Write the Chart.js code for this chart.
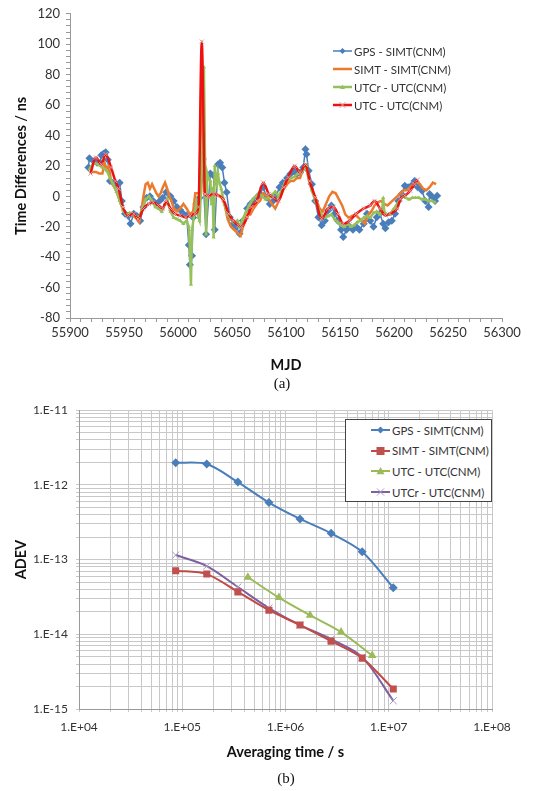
<!DOCTYPE html>
<html>
<head>
<meta charset="utf-8">
<script src="https://cdn.jsdelivr.net/npm/chart.js@4.4.1/dist/chart.umd.min.js"></script>
<style>
  html, body { margin:0; padding:0; background:#fff; }
  body { width:545px; height:791px; position:relative; overflow:hidden; font-family: Lato, "Open Sans", sans-serif; }
  .wrap { position:absolute; left:0; width:545px; }
  .cap { position:absolute; font-family:"Liberation Serif", serif; font-size:15px; color:#111; transform:translate(-50%,-50%); }
  .leg { position:absolute; font-family: Lato, sans-serif; font-size:11.5px; color:#333; }
  .row { position:absolute; left:0; height:14px; white-space:nowrap; display:flex; align-items:center; }
  .row svg { flex:none; margin-right:2px; }
  .box { border:1px solid #444; background:#fff; }
</style>
</head>
<body>
<div class="wrap" style="top:0;height:375px"><canvas id="ca" width="545" height="375"></canvas></div>
<div class="cap" style="left:282px;top:383px">(a)</div>
<div class="wrap" style="top:395px;height:368px"><canvas id="cb" width="545" height="368"></canvas></div>
<div class="cap" style="left:286px;top:778px">(b)</div>
<div id="legA" class="leg" style="left:333px;top:44px;width:125px;height:70px"></div>
<div id="legB" class="leg box" style="left:345px;top:419px;width:145px;height:81px"></div>

<script>
// ---------------- (a) Time differences ----------------
const gpsMjd = [55917,55918,55922,55925,55928,55929,55931,55933,55935,55937,55940,55943,55946,55948,55951,55954,55956,55959,55962,55965,55968,55971,55974,55977,55980,55983,55986,55989,55993,55996,55999,56002,56005,56008,56010,56011,56013,56014,56017,56020,56023,56026,56030,56033,56034,56037,56039,56041,56043,56045,56048,56051,56054,56057,56060,56064,56067,56070,56073,56076,56079,56082,56085,56088,56091,56094,56097,56101,56104,56107,56110,56113,56116,56118,56119,56121,56124,56127,56130,56133,56136,56139,56142,56145,56148,56151,56153,56156,56159,56162,56165,56168,56172,56175,56178,56181,56184,56187,56190,56192,56195,56198,56201,56204,56207,56210,56213,56216,56219,56222,56226,56229,56232,56233,56236,56238,56240];
const gpsVal = [19,25,23,22,22,27,28,29,24,10,9,8,9,-3,-11.5,-13,-18,-11.5,-13,-16,-7,-1,0,-3,-5,-3,-1,2.6,0,-3,-7,-9,-11.5,-12.6,-32,-45,-39,-14,-5,-1,15,-25,15,13.5,-22,21,22,19,9,2.6,-13.7,-18,-20,-24.6,-16,-8,-5,-3,-0.7,1.5,6,-0.7,-5,-3,0.4,6,9,12,14.6,16.8,14.6,15.7,19,31,27.7,16.8,8,-3,-13.7,-19,-16,-9.4,-6,-11.5,-16,-22,-26.8,-22,-20,-22,-20,-22,-18,-11.5,-16,-20,-13.7,-11.5,-18,-21,-17,-16,-11.5,-3,1.5,7,6,7,10,6,3.7,-3,-7,1.5,-0.7,-3,0.4];

const simtMjd = [55918,55921,55924,55927,55930,55932,55934,55936,55938,55941,55944,55947,55950,55953,55956,55959,55962,55964,55966,55968,55970,55972,55974,55976,55978,55980,55982,55984,55986,55988,55990,55992,55994,55996,55999,56002,56005,56008,56011,56014,56016,56018,56020,56022,56024,56026,56028,56031,56034,56037,56040,56043,56046,56049,56052,56055,56058,56061,56064,56067,56070,56073,56076,56079,56082,56085,56088,56090,56092,56095,56098,56101,56104,56107,56110,56113,56116,56119,56122,56125,56128,56131,56134,56137,56140,56143,56146,56149,56152,56155,56158,56161,56164,56167,56170,56173,56176,56179,56182,56185,56188,56191,56194,56197,56200,56203,56206,56209,56212,56215,56218,56221,56224,56227,56230,56233,56236,56239];
const simtVal = [15.7,16,16,15,15,22,18,20,10,6,2,-5,-10,-12,-11,-13,-15,-17,-10,0,8,9,5,8,5,2,0,2,6,9,5,0,-3,-8,-10,-8,-5,-8,-12,-10,2,2,2,95,2,0,-1,0,2,1,0,-5,-15,-20,-22,-24,-26,-18,-12,-12,-8,-5,-3,2,0,-3,-6,-8,-5,0,5,8,10,10,12,12,18,18,8,2,-2,-8,-10,-5,0,3,2,-2,-6,-12,-14,-13,-12,-14,-16,-18,-12,-10,-6,-4,-3,-5,-6,-4,-2,0,2,4,4,6,8,10,8,5,4,6,9,8];

const utcrMjd = [55918,55922,55926,55930,55934,55937,55940,55943,55946,55949,55952,55955,55958,55961,55964,55967,55970,55973,55976,55979,55982,55985,55988,55990,55993,55996,55999,56002,56005,56008,56010,56011,56012,56013,56015,56017,56019,56020,56021,56022,56023,56024,56025,56026,56027,56028,56030,56031,56032,56033,56034,56035,56036,56037,56038,56040,56043,56046,56049,56052,56055,56057,56060,56063,56066,56069,56072,56075,56078,56081,56084,56087,56090,56093,56096,56099,56102,56105,56108,56111,56114,56117,56119,56121,56124,56127,56130,56133,56136,56139,56142,56145,56148,56151,56154,56157,56160,56163,56166,56169,56172,56175,56178,56181,56184,56187,56189,56190,56191,56193,56196,56199,56202,56205,56208,56211,56214,56217,56220,56223,56226,56229,56232,56235,56238];
const utcrVal = [18,22,21,19,17,12,8,3,-3,-9,-12,-11,-12,-13,-14,-8,-2,0,-3,-7,-8,-10,-5,-2,-10,-14,-15,-16,-18,-16,-20,-35,-58,-22,-12,-4,-14,-16,0,20,40,85,25,-25,15,12,10,-5,5,-27,20,12,8,15,10,5,-5,-12,-15,-17,-16,-20,-15,-10,-6,-2,0,2,0,-2,-1,1,3,0,4,9,11,12,13,15,16,18,20,12,4,-3,-8,-12,-14,-13,-12,-15,-17,-19,-20,-18,-20,-19,-17,-16,-14,-13,-14,-11,-10,-12,-9,-1,-10,-12,-12,-9,-6,-3,0,-1,-2,-1,-1,-1,-2,-2,-3,-3,-4];

const utcMjd = [55919,55924,55929,55933,55938,55942,55945,55949,55954,55959,55963,55968,55973,55977,55982,55986,55989,55993,55997,56002,56007,56011,56016,56019,56022,56025,56028,56033,56037,56042,56047,56051,56056,56059,56064,56068,56073,56079,56084,56088,56093,56098,56102,56108,56113,56118,56122,56127,56133,56139,56144,56148,56153,56159,56165,56172,56178,56182,56187,56192,56196,56203,56206,56210,56215,56219,56222];
const utcVal = [15,25.5,21,27.7,19,10,5,-7,-12.6,-11.5,-15,-8,-5,-4,-6,-8,-3,-8,-11.5,-12.6,-13.7,-13,-11.5,-7,101.7,1.5,0.4,1.5,0.4,-2,-11.5,-16,-19,-20,-13.7,-7,-3,9,1.5,-0.7,-3,6,12.4,20,15.7,21,10,-0.7,-14.8,-8,-7,-11.5,-18,-16,-11.5,-8,-6,-3,-8,-12.6,-11.5,-8,-1.7,0.4,3.7,8,11];

const timeYTicks = [-80,-60,-40,-20,0,20,40,60,80,100,120];
const mjdTicks = [55900,55950,56000,56050,56100,56150,56200,56250,56300];
const legendA = ["GPS - SIMT(CNM)","SIMT - SIMT(CNM)","UTCr - UTC(CNM)","UTC - UTC(CNM)"];

// ---------------- (b) ADEV ----------------
const tauDays = [86400,172800,345600,691200,1382400,2764800,5529600,11059200];
const adevGps  = [1.98e-12,1.9e-12,1.09e-12,5.8e-13,3.5e-13,2.25e-13,1.27e-13,4.2e-14];
const adevSimt = [7.1e-14,6.4e-14,3.7e-14,2.1e-14,1.33e-14,8.1e-15,4.8e-15,1.85e-15];
const tauUtc   = [432000,864000,1728000,3456000,6912000];
const adevUtc  = [5.8e-14,3.1e-14,1.8e-14,1.07e-14,5.2e-15];
const adevUtcr = [1.15e-13,8.2e-14,4.3e-14,2.25e-14,1.33e-14,8.6e-15,4.95e-15,1.29e-15];
const adevYTicks = [1e-15,1e-14,1e-13,1e-12,1e-11];
const tauTicks = [1e4,1e5,1e6,1e7,1e8];
const legendB = ["GPS - SIMT(CNM)","SIMT - SIMT(CNM)","UTC - UTC(CNM)","UTCr - UTC(CNM)"];

// ---------------- helpers ----------------
const pts = (xs, ys) => xs.map((x, i) => ({x, y: ys[i]}));
function stepTicks(lo, hi, step) { const o = []; for (let v = lo; v <= hi + 1e-9; v += step) o.push(v); return o; }
function decadeTicks(majors) {
  const o = [];
  const lo = Math.round(Math.log10(majors[0])), hi = Math.round(Math.log10(majors[majors.length-1]));
  for (let e = lo; e < hi; e++) for (let m = 1; m < 10; m++) o.push(Number((m * Math.pow(10, e)).toPrecision(3)));
  o.push(majors[majors.length-1]);
  return o;
}
function sciLabel(v) {
  const e = Math.log10(v), r = Math.round(e);
  if (Math.abs(e - r) > 1e-6) return '';
  return '1.E' + (r < 0 ? '-' : '+') + String(Math.abs(r)).padStart(2, '0');
}
const FONT = 'Lato, "Open Sans", sans-serif';
const tickFontA = {family: FONT, size: 13};
const tickFontB = {family: FONT, size: 12};
const titleFont = {family: FONT, size: 14.5, weight: 'bold'};

// ---------------- chart (a) ----------------
new Chart(document.getElementById('ca'), {
  type: 'line',
  data: {
    datasets: [
      {label: legendA[0], data: pts(gpsMjd, gpsVal), borderColor: '#4A7EBB', backgroundColor: '#4A7EBB', borderWidth: 1.5,
       pointStyle: 'rectRot', pointRadius: 4, pointBorderWidth: 0, order: 4},
      {label: legendA[1], data: pts(simtMjd, simtVal), borderColor: '#EB7A2E', borderWidth: 2.5, pointRadius: 0, order: 3},
      {label: legendA[2], data: pts(utcrMjd, utcrVal), borderColor: '#96C15A', backgroundColor: '#96C15A', borderWidth: 2.5,
       pointStyle: 'triangle', pointRadius: 2.4, pointBorderWidth: 0, order: 2},
      {label: legendA[3], data: pts(utcMjd, utcVal), borderColor: '#EE1111', borderWidth: 2.5, cubicInterpolationMode: 'monotone',
       pointStyle: 'crossRot', pointRadius: 3, pointBorderColor: '#D8A0A0', pointBorderWidth: 1, order: 1}
    ]
  },
  options: {
    responsive: false, animation: false, devicePixelRatio: 1,
    layout: {padding: {top: 12, right: 43, left: 0, bottom: 0}},
    plugins: {legend: {display: false}, tooltip: {enabled: false}},
    scales: {
      x: {
        type: 'linear', min: 55900, max: 56300,
        afterBuildTicks: s => { s.ticks = stepTicks(55900, 56300, 10).map(v => ({value: v})); },
        afterFit: s => { s.height = 57; },
        grid: {drawOnChartArea: false, drawTicks: true, tickLength: 4, color: '#999'},
        border: {color: '#999'},
        ticks: {autoSkip: false, maxRotation: 0, padding: 3, color: '#333', font: tickFontA,
                callback: v => mjdTicks.includes(v) ? String(v) : ''},
        title: {display: true, text: 'MJD', color: '#111', font: titleFont, padding: {top: 0, bottom: 1}}
      },
      y: {
        type: 'linear', min: -80, max: 120,
        afterBuildTicks: s => { s.ticks = stepTicks(-80, 120, 4).map(v => ({value: Math.round(v)})); },
        afterFit: s => { s.width = 70; },
        grid: {drawOnChartArea: false, drawTicks: true, tickLength: 4, color: '#999'},
        border: {color: '#999'},
        ticks: {autoSkip: false, padding: 6, color: '#333', font: tickFontA,
                callback: v => timeYTicks.includes(v) ? String(v) : ''},
        title: {display: true, text: 'Time Differences / ns', color: '#111', font: titleFont, padding: {top: 13, bottom: 0}}
      }
    }
  }
});

// ---------------- chart (b) ----------------
new Chart(document.getElementById('cb'), {
  type: 'line',
  data: {
    datasets: [
      {label: legendB[0], data: pts(tauDays, adevGps), borderColor: '#4A7EBB', backgroundColor: '#4A7EBB', borderWidth: 2,
       pointStyle: 'rectRot', pointRadius: 4.5, pointBorderWidth: 0, tension: 0.3},
      {label: legendB[1], data: pts(tauDays, adevSimt), borderColor: '#BE4B48', backgroundColor: '#C0504D', borderWidth: 2,
       pointStyle: 'rect', pointRadius: 5, pointBorderWidth: 0, tension: 0.3},
      {label: legendB[2], data: pts(tauUtc, adevUtc), borderColor: '#9BBB59', backgroundColor: '#9BBB59', borderWidth: 2,
       pointStyle: 'triangle', pointRadius: 5, pointBorderWidth: 0, tension: 0.3},
      {label: legendB[3], data: pts(tauDays, adevUtcr), borderColor: '#7D60A0', borderWidth: 2,
       pointStyle: 'crossRot', pointRadius: 5, pointBorderColor: '#A898C4', pointBorderWidth: 1, tension: 0.3}
    ]
  },
  options: {
    responsive: false, animation: false, devicePixelRatio: 1,
    layout: {padding: {top: 11, right: 53, left: 0, bottom: 0}},
    plugins: {legend: {display: false}, tooltip: {enabled: false}},
    scales: {
      x: {
        type: 'logarithmic', min: 1e4, max: 1e8,
        afterBuildTicks: s => { s.ticks = decadeTicks(tauTicks).map(v => ({value: v})); },
        afterFit: s => { s.height = 54; },
        grid: {color: '#C8C8C8', tickLength: 3},
        border: {color: '#999'},
        ticks: {autoSkip: false, maxRotation: 0, padding: 8, color: '#333', font: tickFontB, callback: v => sciLabel(v)},
        title: {display: true, text: 'Averaging time / s', color: '#111', font: titleFont, padding: {top: 0, bottom: 2}}
      },
      y: {
        type: 'logarithmic', min: 1e-15, max: 1e-11,
        afterBuildTicks: s => { s.ticks = decadeTicks(adevYTicks).map(v => ({value: v})); },
        afterFit: s => { s.width = 79; },
        grid: {color: '#C8C8C8', tickLength: 3},
        border: {color: '#999'},
        ticks: {autoSkip: false, padding: 8, color: '#333', font: tickFontB, callback: v => sciLabel(v)},
        title: {display: true, text: 'ADEV', color: '#111', font: titleFont, padding: {top: 13, bottom: 0}}
      }
    }
  }
});

// ---------------- legends (HTML text) ----------------
function marker(kind, color, cx, cy, r) {
  if (kind === 'diamond') return `<polygon points="${cx},${cy-r} ${cx+r},${cy} ${cx},${cy+r} ${cx-r},${cy}" fill="${color}"/>`;
  if (kind === 'square') return `<rect x="${cx-r}" y="${cy-r}" width="${2*r}" height="${2*r}" fill="${color}"/>`;
  if (kind === 'triangle') return `<polygon points="${cx},${cy-r} ${cx+r},${cy+r*0.8} ${cx-r},${cy+r*0.8}" fill="${color}"/>`;
  if (kind === 'x') return `<path d="M${cx-r},${cy-r}L${cx+r},${cy+r}M${cx-r},${cy+r}L${cx+r},${cy-r}" stroke="${color}" stroke-width="1"/>`;
  return '';
}
function sample(line, lw, kind, mcolor, r) {
  return `<svg width="19" height="14"><line x1="0" y1="7" x2="19" y2="7" stroke="${line}" stroke-width="${lw}"/>${marker(kind, mcolor, 9.5, 7, r)}</svg>`;
}
const legA = document.getElementById('legA');
const specA = [
  ['#4A7EBB', 1.5, 'diamond', '#4A7EBB', 3],
  ['#EB7A2E', 2.5, '', '', 0],
  ['#96C15A', 2.5, 'triangle', '#96C15A', 2.5],
  ['#EE1111', 2.5, 'x', '#D8A0A0', 3]
];
legendA.forEach((t, i) => {
  const d = document.createElement('div'); d.className = 'row'; d.style.top = (i * 18) + 'px';
  d.innerHTML = sample(...specA[i]) + '<span>' + t + '</span>'; legA.appendChild(d);
});
const legB = document.getElementById('legB');
const specB = [
  ['#4A7EBB', 2, 'diamond', '#4A7EBB', 3.5],
  ['#BE4B48', 2, 'square', '#C0504D', 4],
  ['#9BBB59', 2, 'triangle', '#9BBB59', 4],
  ['#7D60A0', 2, 'x', '#A898C4', 3.5]
];
legendB.forEach((t, i) => {
  const d = document.createElement('div'); d.className = 'row'; d.style.left = '25px'; d.style.top = (3 + i * 20.7) + 'px';
  d.innerHTML = sample(...specB[i]) + '<span>' + t + '</span>'; legB.appendChild(d);
});
</script>
</body>
</html>
